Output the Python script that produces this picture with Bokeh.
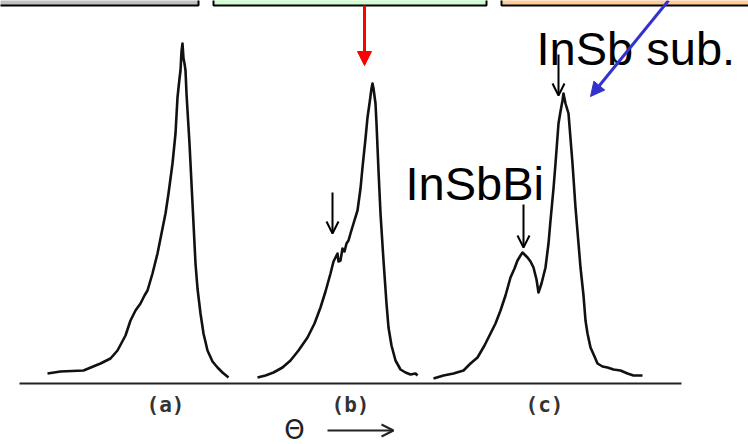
from bokeh.plotting import figure
from bokeh.models import Range1d, Arrow, OpenHead, NormalHead
from bokeh.core.properties import value
from bokeh.embed import file_html
from bokeh.resources import INLINE

# Rocking curves: theta (arb. units, horizontal position) and intensity (arb. units)
theta_a = [47, 60, 83, 100, 110, 117, 125, 130, 135, 140, 144, 147, 152, 157, 161, 165, 168, 172, 175, 177,
           179, 180, 181, 182, 183, 184, 185, 186, 187, 189, 190, 192, 195, 197, 200, 203, 207, 212, 217, 222, 228]
inten_a = [10, 12, 13, 20, 25, 33, 48, 63, 73, 80, 88, 93, 110, 130, 150, 170, 190, 220, 250, 286,
           305, 313, 332, 340, 325, 320, 313, 290, 273, 240, 220, 180, 120, 95, 70, 50, 33, 22, 16, 11, 6]

theta_b = [257, 265, 273, 282, 290, 298, 307, 314, 320, 325, 330, 333, 335, 337, 338, 340, 342, 344, 346, 348,
           350, 353, 357, 360, 362, 365, 367, 369, 371, 372, 373, 375, 376, 378, 380, 383, 386, 388, 391, 395,
           400, 405, 410, 415, 417]
inten_b = [6, 8, 11, 16, 23, 33, 46, 60, 76, 92, 110, 122, 126, 130, 122, 123, 135, 132, 140, 143,
           150, 160, 173, 195, 216, 245, 266, 280, 295, 300, 295, 280, 260, 213, 170, 123, 80, 56, 38, 23,
           14, 11, 9, 10, 8]

theta_c = [433, 443, 453, 463, 470, 477, 484, 490, 495, 500, 505, 510, 514, 517, 520, 522, 525, 527, 530, 533,
           536, 538, 541, 545, 548, 550, 553, 555, 558, 560, 562, 563, 565, 568, 570, 572, 575, 578, 580, 583,
           585, 587, 590, 594, 597, 602, 607, 613, 620, 627, 633, 642]
inten_c = [5, 8, 10, 13, 20, 26, 38, 50, 60, 73, 88, 106, 115, 123, 128, 131, 128, 126, 122, 116,
           104, 91, 100, 116, 140, 163, 195, 220, 260, 272, 283, 290, 280, 270, 245, 220, 176, 140, 116, 88,
           63, 50, 36, 27, 20, 17, 16, 14, 13, 10, 8, 8]

panel_labels = ["(a)", "(b)", "(c)"]
panel_theta = [165, 350, 544]

# header boxes
box_left = [-10, 213, 501]
box_right = [198, 486, 760]
box_colors = ["#c0c0c0", "#ccffcc", "#ffcc99"]

p = figure(width=748, height=444, output_backend="svg", toolbar_location=None,
           x_range=Range1d(0, 748), y_range=Range1d(-61, 383), min_border=0)
p.axis.visible = False
p.grid.visible = False
p.outline_line_color = None
p.background_fill_color = "white"

p.quad(left=box_left, right=box_right, top=[400, 400, 400], bottom=[378, 378, 378],
       fill_color=box_colors, line_color="black", line_width=2)

# baseline
p.line([19, 681], [0, 0], line_color="#222222", line_width=2)

for th, it in [(theta_a, inten_a), (theta_b, inten_b), (theta_c, inten_c)]:
    p.line(th, it, line_color="#111111", line_width=2.6, line_join="round")

p.text(x=panel_theta, y=[-21] * 3, text=panel_labels, text_font=value("DejaVu Sans Mono"),
       text_font_size="21px", text_font_style="bold", text_align="center", text_baseline="middle",
       text_color="#333333")
p.text(x=[294], y=[-46], text=["Θ"], text_font=value("DejaVu Sans"), text_font_size="26px",
       text_align="center", text_baseline="middle", text_color="#222222")
p.add_layout(Arrow(end=OpenHead(size=12, line_width=2, line_color="#222222"),
                   x_start=327, y_start=-47, x_end=393, y_end=-47, line_width=2.2, line_color="#222222"))

p.text(x=[536], y=[335], text=["InSb sub."], text_font=value("Liberation Sans"), text_font_size="47px",
       text_align="left", text_baseline="alphabetic", text_color="black")
p.text(x=[405], y=[200], text=["InSbBi"], text_font=value("Liberation Sans"), text_font_size="47px",
       text_align="left", text_baseline="alphabetic", text_color="black")

for xs, y0, y1 in [(558, 329, 288), (523, 179, 136), (332, 191, 150)]:
    p.add_layout(Arrow(end=OpenHead(size=12, line_width=2, line_color="black"),
                       x_start=xs, y_start=y0, x_end=xs, y_end=y1, line_width=2, line_color="black"))

p.add_layout(Arrow(end=NormalHead(size=14, fill_color="red", line_color="red"),
                   x_start=364, y_start=378, x_end=364, y_end=318, line_width=3, line_color="red"))
p.add_layout(Arrow(end=NormalHead(size=14, fill_color="#3333cc", line_color="#3333cc"),
                   x_start=668, y_start=383, x_end=590, y_end=287, line_width=3, line_color="#3333cc"))

open("out.html", "w").write(file_html(p, INLINE))
